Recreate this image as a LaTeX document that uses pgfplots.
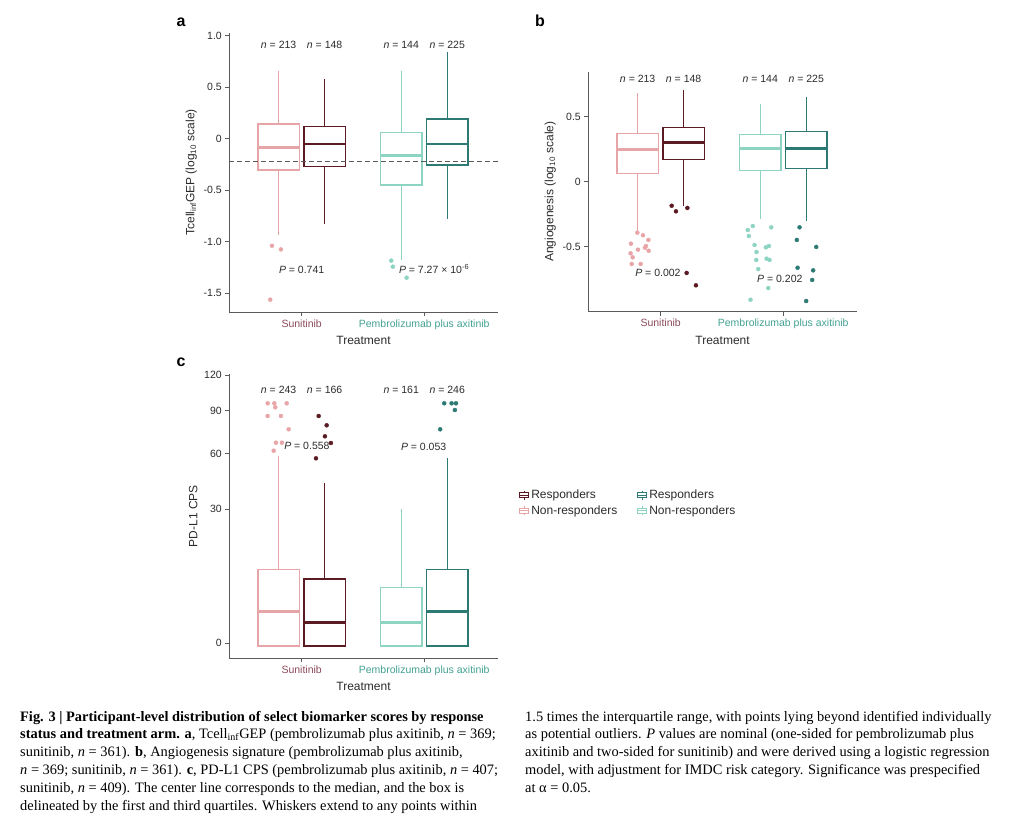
\documentclass[border=0pt]{standalone}
\usepackage{pgfplots}
\pgfplotsset{compat=1.18}
\usepgfplotslibrary{statistics}
\usepackage{fontspec}
\setmainfont{Liberation Sans}
\newfontfamily\capfont{Liberation Serif}

\definecolor{snr}{HTML}{E8A5A8}
\definecolor{sr}{HTML}{5A1B22}
\definecolor{pnr}{HTML}{8ED4C2}
\definecolor{pr}{HTML}{2C7A73}
\definecolor{sunlab}{HTML}{8A4A5B}
\definecolor{pemlab}{HTML}{43A192}
\definecolor{axgray}{HTML}{5A5A5A}
\definecolor{txt}{HTML}{2B2B2B}

\pgfplotsset{
  panel/.style={
    scale only axis, width=268.5pt,
    xmin=0.41, xmax=2.6,
    axis lines*=left,
    axis line style={axgray, line width=0.8pt, -},
    every tick/.style={axgray, line width=0.8pt},
    tick align=outside, major tick length=4pt,
    xtick={1,2},
    xticklabels={\textcolor{sunlab}{Sunitinib},\textcolor{pemlab}{Pembrolizumab plus axitinib}},
    tick label style={font=\fontsize{10.5}{12}\selectfont, text=txt},
    /pgf/number format/assume math mode=true,
    xlabel=Treatment,
    label style={font=\fontsize{12}{14}\selectfont, text=txt},
    clip=false,
    boxplot/draw direction=y,
    boxplot/box extend=0.3375,
    boxplot/whisker extend=0,
    boxplot/every median/.style={line width=2.6pt},
  },
  bp/.style={solid, line width=1.4pt, mark=none, forget plot},
  out/.style={only marks, mark=*, mark size=2pt, forget plot},
}
\tikzset{lab/.style={font=\fontsize{10.5}{12}\selectfont, text=txt}}

\begin{document}
\begin{tikzpicture}
\path[use as bounding box] (0pt,0pt) rectangle (1024pt,816pt);

% panel letters
\node[font=\bfseries\fontsize{16}{16}\selectfont, anchor=base] at (181pt,789pt) {a};
\node[font=\bfseries\fontsize{16}{16}\selectfont, anchor=base] at (540pt,789pt) {b};
\node[font=\bfseries\fontsize{16}{16}\selectfont, anchor=base] at (181pt,449pt) {c};

% ---- panel a
\begin{axis}[panel, at={(229.3pt,504pt)}, anchor=south west, height=279pt,
  ymin=-1.683, ymax=1.026,
  ytick={-1.5,-1,-0.5,0,0.5,1}, yticklabels={-1.5,-1.0,-0.5,0,0.5,1.0},
  ylabel={Tcell\textsubscript{inf}GEP (log\textsubscript{10} scale)}]
\addplot[bp, draw=snr, boxplot prepared={draw position=0.8125, lower whisker=-0.94, lower quartile=-0.304, median=-0.084, upper quartile=0.142, upper whisker=0.66}] coordinates {};
\addplot[bp, draw=sr, boxplot prepared={draw position=1.1875, lower whisker=-0.832, lower quartile=-0.272, median=-0.052, upper quartile=0.117, upper whisker=0.583}] coordinates {};
\addplot[bp, draw=pnr, boxplot prepared={draw position=1.8125, lower whisker=-1.175, lower quartile=-0.45, median=-0.165, upper quartile=0.058, upper whisker=0.66}] coordinates {};
\addplot[bp, draw=pr, boxplot prepared={draw position=2.1875, lower whisker=-0.783, lower quartile=-0.256, median=-0.052, upper quartile=0.191, upper whisker=0.841}] coordinates {};
\addplot[out, color=snr] coordinates {(0.758,-1.04) (0.831,-1.075) (0.744,-1.563)};
\addplot[out, color=pnr] coordinates {(1.731,-1.184) (1.744,-1.243) (1.856,-1.35)};
\addplot[axgray, line width=0.8pt, dash pattern=on 5pt off 3pt, forget plot] coordinates {(0.41,-0.22) (2.6,-0.22)};
\node[lab] at (axis cs:0.8125,0.913) {\textit{n} = 213};
\node[lab] at (axis cs:1.1875,0.913) {\textit{n} = 148};
\node[lab] at (axis cs:1.8125,0.913) {\textit{n} = 144};
\node[lab] at (axis cs:2.1875,0.913) {\textit{n} = 225};
\node[lab] at (axis cs:1,-1.27) {\textit{P} = 0.741};
\node[lab] at (axis cs:2.08,-1.27) {\textit{P} = 7.27 × 10\textsuperscript{-6}};
\end{axis}

% ---- panel b
\begin{axis}[panel, at={(588.3pt,504.3pt)}, anchor=south west, height=240pt,
  ymin=-1.0, ymax=0.846,
  ytick={-0.5,0,0.5}, yticklabels={-0.5,0,0.5},
  ylabel={Angiogenesis (log\textsubscript{10} scale)}]
\addplot[bp, draw=snr, boxplot prepared={draw position=0.8125, lower whisker=-0.385, lower quartile=0.064, median=0.249, upper quartile=0.372, upper whisker=0.685}] coordinates {};
\addplot[bp, draw=sr, boxplot prepared={draw position=1.1875, lower whisker=-0.187, lower quartile=0.169, median=0.303, upper quartile=0.418, upper whisker=0.705}] coordinates {};
\addplot[bp, draw=pnr, boxplot prepared={draw position=1.8125, lower whisker=-0.287, lower quartile=0.087, median=0.254, upper quartile=0.362, upper whisker=0.595}] coordinates {};
\addplot[bp, draw=pr, boxplot prepared={draw position=2.1875, lower whisker=-0.3, lower quartile=0.1, median=0.254, upper quartile=0.387, upper whisker=0.649}] coordinates {};
\addplot[out, color=snr] coordinates {(0.810,-0.392) (0.856,-0.412) (0.900,-0.448) (0.758,-0.477) (0.880,-0.495) (0.872,-0.508) (0.815,-0.523) (0.902,-0.531) (0.755,-0.551) (0.772,-0.582) (0.764,-0.633) (0.837,-0.633)};
\addplot[out, color=sr] coordinates {(1.090,-0.185) (1.125,-0.228) (1.218,-0.202) (1.212,-0.702) (1.288,-0.797)};
\addplot[out, color=pnr] coordinates {(1.752,-0.341) (1.711,-0.372) (1.902,-0.351) (1.720,-0.418) (1.766,-0.487) (1.858,-0.505) (1.883,-0.495) (1.782,-0.541) (1.780,-0.602) (1.864,-0.592) (1.888,-0.602) (1.796,-0.672) (1.878,-0.818) (1.733,-0.908)};
\addplot[out, color=pr] coordinates {(2.133,-0.351) (2.111,-0.448) (2.269,-0.502) (2.117,-0.662) (2.244,-0.682) (2.236,-0.756) (2.187,-0.918)};
\node[lab] at (axis cs:0.8125,0.788) {\textit{n} = 213};
\node[lab] at (axis cs:1.1875,0.788) {\textit{n} = 148};
\node[lab] at (axis cs:1.8125,0.788) {\textit{n} = 144};
\node[lab] at (axis cs:2.1875,0.788) {\textit{n} = 225};
\node[lab] at (axis cs:0.978,-0.700) {\textit{P} = 0.002};
\node[lab] at (axis cs:1.972,-0.751) {\textit{P} = 0.202};
\end{axis}

% ---- panel c: square-root scale, y values are sqrt(CPS)
% ticks 0,30,60,90,120 sit at sqrt: 0, 5.477, 7.746, 9.487, 10.954
\begin{axis}[panel, at={(229.3pt,157.7pt)}, anchor=south west, height=284.5pt,
  ymin=-0.612, ymax=11.0,
  ytick={0,5.477,7.746,9.487,10.954}, yticklabels={0,30,60,90,120},
  ylabel={PD-L1 CPS},
  legend image code/.code={
    \draw[#1, line width=1pt] (0pt,-2.8pt) rectangle (9pt,2.8pt);
    \draw[#1, line width=1pt] (0pt,0pt) -- (9pt,0pt);
    \draw[#1, line width=1pt] (4.5pt,2.8pt) -- (4.5pt,4.6pt);
    \draw[#1, line width=1pt] (4.5pt,-2.8pt) -- (4.5pt,-4.6pt);
  },
  legend columns=2,
  legend style={at={(axis description cs:1.068,0.546)}, anchor=west, draw=none, fill=none,
    font=\fontsize{12}{14}\selectfont, text=txt, row sep=1.5pt,
    /tikz/every even column/.append style={column sep=18pt}},
  legend cell align=left]
\addplot[bp, draw=snr, boxplot prepared={draw position=0.8125, lower whisker=-0.11, lower quartile=-0.11, median=1.293, upper quartile=3.02, upper whisker=7.646}] coordinates {};
\addplot[bp, draw=sr, boxplot prepared={draw position=1.1875, lower whisker=-0.11, lower quartile=-0.11, median=0.857, upper quartile=2.626, upper whisker=6.531}] coordinates {};
\addplot[bp, draw=pnr, boxplot prepared={draw position=1.8125, lower whisker=-0.11, lower quartile=-0.11, median=0.857, upper quartile=2.286, upper whisker=5.469}] coordinates {};
\addplot[bp, draw=pr, boxplot prepared={draw position=2.1875, lower whisker=-0.11, lower quartile=-0.11, median=1.293, upper quartile=3.02, upper whisker=7.551}] coordinates {};
\addplot[out, color=snr] coordinates {(0.723,9.796) (0.777,9.796) (0.878,9.796) (0.785,9.633) (0.723,9.278) (0.831,9.278) (0.894,8.735) (0.790,8.188) (0.839,8.188) (0.772,7.861)};
\addplot[out, color=sr] coordinates {(1.139,9.278) (1.204,8.898) (1.190,8.449) (1.239,8.176) (1.117,7.551)};
\addplot[out, color=pr] coordinates {(2.163,9.796) (2.223,9.796) (2.259,9.796) (2.250,9.522) (2.130,8.735)};
\node[lab] at (axis cs:0.8125,10.34) {\textit{n} = 243};
\node[lab] at (axis cs:1.1875,10.34) {\textit{n} = 166};
\node[lab] at (axis cs:1.8125,10.34) {\textit{n} = 161};
\node[lab] at (axis cs:2.1875,10.34) {\textit{n} = 246};
\node[lab] at (axis cs:1.043,8.053) {\textit{P} = 0.558};
\node[lab] at (axis cs:1.995,8.03) {\textit{P} = 0.053};
\addlegendimage{draw=sr}\addlegendentry{Responders}
\addlegendimage{draw=pr}\addlegendentry{Responders}
\addlegendimage{draw=snr}\addlegendentry{Non-responders}
\addlegendimage{draw=pnr}\addlegendentry{Non-responders}
\end{axis}

% ---- caption
\begin{scope}[every node/.style={anchor=base west, inner sep=0pt, font=\capfont\fontsize{14.4}{16}\selectfont}]
\node at (20pt,95pt) {\textbf{Fig. 3 | Participant-level distribution of select biomarker scores by response}};
\node at (20pt,77.2pt) {\textbf{status and treatment arm. a}, Tcell\textsubscript{inf}GEP (pembrolizumab plus axitinib, \textit{n} = 369;};
\node at (20pt,59.4pt) {sunitinib, \textit{n} = 361). \textbf{b}, Angiogenesis signature (pembrolizumab plus axitinib,};
\node at (20pt,41.6pt) {\textit{n} = 369; sunitinib, \textit{n} = 361). \textbf{c}, PD-L1 CPS (pembrolizumab plus axitinib, \textit{n} = 407;};
\node at (20pt,23.8pt) {sunitinib, \textit{n} = 409). The center line corresponds to the median, and the box is};
\node at (20pt,6pt) {delineated by the first and third quartiles. Whiskers extend to any points within};
\node at (525pt,95pt) {1.5 times the interquartile range, with points lying beyond identified individually};
\node at (525pt,77.2pt) {as potential outliers. \textit{P} values are nominal (one-sided for pembrolizumab plus};
\node at (525pt,59.4pt) {axitinib and two-sided for sunitinib) and were derived using a logistic regression};
\node at (525pt,41.6pt) {model, with adjustment for IMDC risk category. Significance was prespecified};
\node at (525pt,23.8pt) {at α = 0.05.};
\end{scope}
\end{tikzpicture}
\end{document}
